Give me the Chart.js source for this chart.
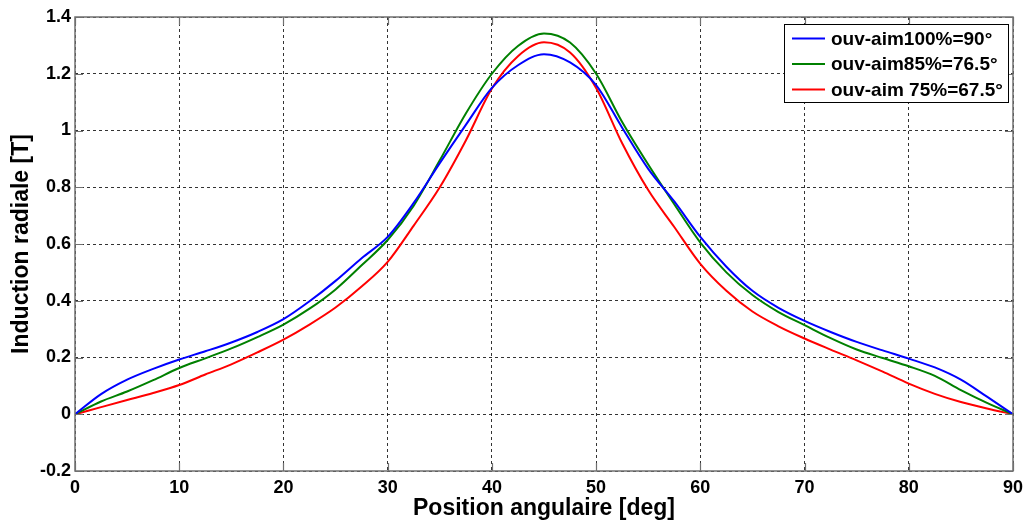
<!DOCTYPE html>
<html>
<head>
<meta charset="utf-8">
<script src="https://cdn.jsdelivr.net/npm/chart.js@4"></script>
<style>
  html, body { margin: 0; padding: 0; background: #fff; }
  #wrap { width: 1026px; height: 524px; }
</style>
</head>
<body>
<div id="wrap"><canvas id="chart"></canvas></div>
<script>
// angles (deg) et valeurs
const angles = [0, 2.5, 5, 7.5, 10, 12.5, 15, 17.5, 20, 22.5, 25, 27.5, 30, 32.5, 35, 37.5, 40, 42.5,
  45, 47.5, 50, 52.5, 55, 57.5, 60, 62.5, 65, 67.5, 70, 72.5, 75, 77.5, 80, 82.5, 85, 87.5, 90];

const aim100 = [0, 0.071, 0.122, 0.16, 0.193, 0.222, 0.253, 0.29, 0.335, 0.398, 0.47, 0.55, 0.625, 0.745, 0.885, 1.02, 1.15, 1.23,
  1.269, 1.24, 1.16, 1.01, 0.865, 0.75, 0.625, 0.52, 0.435, 0.375, 0.329, 0.29, 0.255, 0.225, 0.196, 0.165, 0.122, 0.062, 0];

const aim85 = [0, 0.045, 0.08, 0.12, 0.163, 0.197, 0.232, 0.272, 0.316, 0.372, 0.44, 0.525, 0.614, 0.735, 0.895, 1.06, 1.2, 1.298,
  1.342, 1.31, 1.2, 1.03, 0.88, 0.74, 0.605, 0.5, 0.42, 0.36, 0.314, 0.268, 0.228, 0.198, 0.169, 0.135, 0.085, 0.04, 0];

const aim75 = [0, 0.025, 0.05, 0.075, 0.103, 0.14, 0.176, 0.218, 0.263, 0.316, 0.376, 0.45, 0.537, 0.665, 0.8, 0.965, 1.148, 1.262,
  1.311, 1.275, 1.15, 0.955, 0.79, 0.66, 0.53, 0.435, 0.362, 0.31, 0.267, 0.228, 0.19, 0.15, 0.108, 0.072, 0.043, 0.02, 0];

const seriesLabels = ['ouv-aim100%=90°', 'ouv-aim85%=76.5°', 'ouv-aim 75%=67.5°'];
const seriesColors = ['#0000ff', '#008000', '#ff0000'];

const xTitle = 'Position angulaire [deg]';
const yTitle = 'Induction radiale [T]';

const FONT = 'Arial, "Liberation Sans", sans-serif';

/**
 * points {x, y}
 */
function toPoints(values) {
  return values.map((v, i) => ({ x: angles[i], y: v }));
}

/**
 * cadre gris + petites graduations vers l'interieur
 */
const framePlugin = {
  id: 'frame',
  afterDatasetsDraw(chart) {
    const { ctx, chartArea: a, scales } = chart;
    ctx.save();
    ctx.strokeStyle = '#707070';
    ctx.lineWidth = 1.5;
    ctx.strokeRect(a.left, a.top, a.right - a.left, a.bottom - a.top);
    ctx.lineWidth = 1.2;
    ctx.beginPath();
    scales.x.ticks.forEach(t => {
      const px = Math.round(scales.x.getPixelForValue(t.value)) + 0.5;
      ctx.moveTo(px, a.bottom); ctx.lineTo(px, a.bottom - 8);
      ctx.moveTo(px, a.top); ctx.lineTo(px, a.top + 8);
    });
    scales.y.ticks.forEach(t => {
      const py = Math.round(scales.y.getPixelForValue(t.value)) + 0.5;
      ctx.moveTo(a.left, py); ctx.lineTo(a.left + 8, py);
      ctx.moveTo(a.right, py); ctx.lineTo(a.right - 8, py);
    });
    ctx.stroke();
    ctx.restore();
  }
};

/**
 * legende encadree en haut a droite
 */
const legendBoxPlugin = {
  id: 'legendBox',
  afterDraw(chart) {
    const { ctx } = chart;
    const box = { x: 784, y: 24, w: 224, h: 78 };
    ctx.save();
    ctx.fillStyle = '#fff';
    ctx.fillRect(box.x, box.y, box.w, box.h);
    ctx.strokeStyle = '#000';
    ctx.lineWidth = 1;
    ctx.strokeRect(box.x + 0.5, box.y + 0.5, box.w, box.h);
    ctx.font = 'bold 19px ' + FONT;
    ctx.textBaseline = 'middle';
    chart.data.datasets.forEach((ds, i) => {
      const cy = box.y + 14.5 + i * 25.5;
      ctx.strokeStyle = ds.borderColor;
      ctx.lineWidth = 2;
      ctx.beginPath();
      ctx.moveTo(792, cy);
      ctx.lineTo(825, cy);
      ctx.stroke();
      ctx.fillStyle = '#000';
      ctx.fillText(ds.label, 831, cy + 1);
    });
    ctx.restore();
  }
};

function init() {
  const ctx = document.getElementById('chart').getContext('2d');
  const seriesValues = [aim100, aim85, aim75];

  new Chart(ctx, {
    type: 'line',
    data: {
      datasets: seriesValues.map((vals, i) => ({
        label: seriesLabels[i],
        data: toPoints(vals),
        borderColor: seriesColors[i],
        borderWidth: 2,
        pointRadius: 0,
        cubicInterpolationMode: 'monotone',
        fill: false
      }))
    },
    options: {
      responsive: true,
      maintainAspectRatio: false,
      animation: false,
      layout: { padding: { top: 17, right: 13, left: 0, bottom: 0 } },
      plugins: {
        legend: { display: false },
        tooltip: { enabled: false }
      },
      scales: {
        x: {
          type: 'linear',
          min: 0,
          max: 90,
          afterFit: (axis) => {
            axis.height = 53;
            axis.paddingLeft = 0;
            axis.paddingRight = 0;
          },
          border: { display: false, dash: [3, 3] },
          grid: {
            color: 'rgba(0,0,0,0.8)',
            lineWidth: 1,
            drawTicks: false
          },
          ticks: {
            stepSize: 10,
            padding: 6,
            color: '#000',
            font: { family: FONT, size: 18, weight: 'bold' }
          },
          title: {
            display: true,
            text: xTitle,
            color: '#000',
            font: { family: FONT, size: 23, weight: 'bold' },
            padding: { top: 0, bottom: 2 }
          }
        },
        y: {
          min: -0.2,
          max: 1.4,
          afterFit: (axis) => {
            axis.width = 75;
            axis.paddingTop = 0;
            axis.paddingBottom = 0;
          },
          border: { display: false, dash: [3, 3] },
          grid: {
            color: 'rgba(0,0,0,0.8)',
            lineWidth: 1,
            drawTicks: false
          },
          ticks: {
            stepSize: 0.2,
            padding: 4,
            color: '#000',
            font: { family: FONT, size: 18, weight: 'bold' },
            callback: (v) => String(+v.toFixed(1))
          },
          title: {
            display: true,
            text: yTitle,
            color: '#000',
            font: { family: FONT, size: 23, weight: 'bold' },
            padding: { top: 8, bottom: 0 }
          }
        }
      }
    },
    plugins: [framePlugin, legendBoxPlugin]
  });
}

document.addEventListener('DOMContentLoaded', init);
</script>
</body>
</html>
